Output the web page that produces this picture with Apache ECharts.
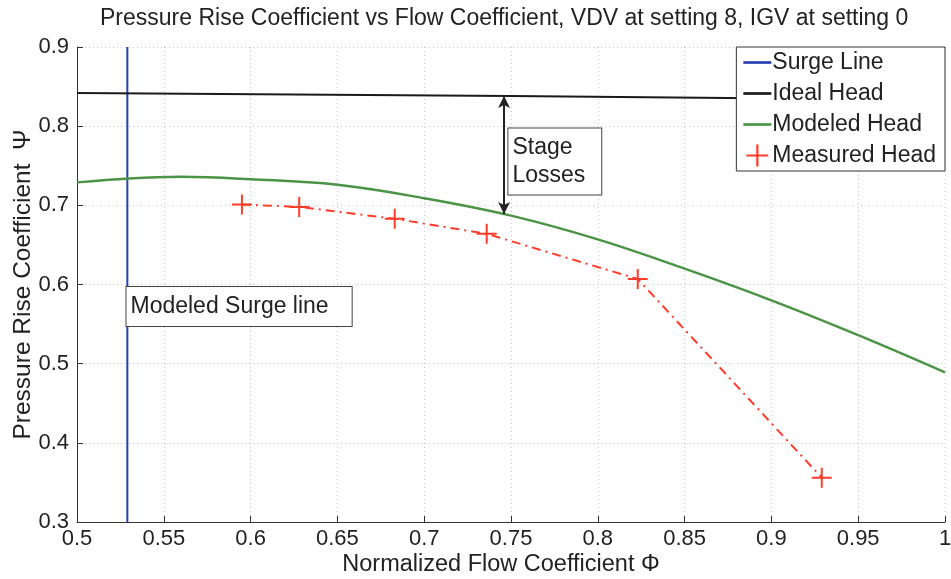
<!DOCTYPE html>
<html><head><meta charset="utf-8">
<script src="https://cdn.jsdelivr.net/npm/echarts@6/dist/echarts.min.js"></script>
<style>html,body{margin:0;padding:0;background:#fff}#c{width:951px;height:579px}</style>
</head><body><div id="c"></div>
<script>
const titleText = 'Pressure Rise Coefficient vs Flow Coefficient, VDV at setting 8, IGV at setting 0';
const xName = 'Normalized Flow Coefficient \u03A6';
const yName = 'Pressure Rise Coefficient  \u03A8';
const surgeX = [0.529, 0.529];
const surgeY = [0.3, 0.9];
const idealX = [0.5, 0.75, 1.0];
const idealY = [0.842, 0.838, 0.833];
const modeledX = [0.5, 0.53, 0.56, 0.6, 0.65, 0.7, 0.75, 0.8, 0.85, 0.9, 0.95, 1.0];
const modeledY = [0.729, 0.734, 0.736, 0.733, 0.726, 0.709, 0.687, 0.657, 0.620, 0.580, 0.536, 0.489];
const measuredX = [0.595, 0.628, 0.683, 0.736, 0.823, 0.929];
const measuredY = [0.701, 0.698, 0.683, 0.664, 0.607, 0.356];
const lossesX = 0.746;
const lossesTop = 0.838, lossesBottom = 0.689;
const stageLabel = 'Stage\nLosses';
const surgeLabel = 'Modeled Surge line';
const stageLabelPos = [0.7485, 0.797];
const surgeLabelPos = [0.5285, 0.597];

const zip = (a, b) => a.map((v, i) => [v, b[i]]);
const plus = 'path://M0.45,0H0.55V0.45H1V0.55H0.55V1H0.45V0.55H0V0.45H0.45Z';
const dash = 'path://M0,0H26V2.5H0Z';
const FONT = 'Liberation Sans, Arial, sans-serif';

const chart = echarts.init(document.getElementById('c'));
chart.setOption({
  animation: false,
  textStyle: {fontFamily: FONT},
  title: {text: titleText, left: 95, top: 2, textStyle: {fontSize: 23, fontWeight: 'normal', color: '#222', fontFamily: FONT}},
  grid: {left: 77, right: 6, top: 47, bottom: 57, outerBoundsMode: 'none', containLabel: false},
  legend: {
    orient: 'vertical', right: 6, top: 47, padding: [4, 9, 4, 7], itemGap: 8,
    backgroundColor: '#fff', borderColor: '#333', borderWidth: 1, borderRadius: 0,
    itemWidth: 28, itemHeight: 22, symbolKeepAspect: true,
    textStyle: {fontSize: 23, color: '#222', padding: [0, 0, 0, -4]},
    data: [
      {name: 'Surge Line', icon: dash}, {name: 'Ideal Head', icon: dash}, {name: 'Modeled Head', icon: dash},
      {name: 'Measured Head', icon: plus, itemStyle: {color: '#ff3b2a'}}
    ]
  },
  xAxis: {
    type: 'value', min: 0.5, max: 1, interval: 0.05,
    name: xName, nameLocation: 'middle', nameGap: 31, nameMoveOverlap: false,
    nameTextStyle: {fontSize: 23.5, color: '#222', padding: [0, 20, 0, 0]},
    axisLine: {lineStyle: {color: '#333'}},
    axisTick: {inside: true, length: 6, lineStyle: {color: '#333'}},
    axisLabel: {fontSize: 22, color: '#222', margin: 6},
    splitLine: {show: true, lineStyle: {color: '#c8c8c8', type: [1, 3]}}
  },
  yAxis: {
    type: 'value', min: 0.3, max: 0.9, interval: 0.1,
    name: yName, nameLocation: 'middle', nameGap: 41, nameMoveOverlap: false,
    nameTextStyle: {fontSize: 24.5, color: '#222'},
    axisLine: {show: true, lineStyle: {color: '#333'}},
    axisTick: {show: true, inside: true, length: 6, lineStyle: {color: '#333'}},
    axisLabel: {fontSize: 22, color: '#222', margin: 8, formatter: v => String(+v.toFixed(2))},
    splitLine: {show: true, lineStyle: {color: '#c8c8c8', type: [1, 3]}}
  },
  series: [
    {name: 'Surge Line', type: 'line', data: zip(surgeX, surgeY), symbol: 'none',
      lineStyle: {color: '#2640b0', width: 2}, itemStyle: {color: '#2640b0'}},
    {name: 'Ideal Head', type: 'line', data: zip(idealX, idealY), symbol: 'none',
      lineStyle: {color: '#1a1a1a', width: 2}, itemStyle: {color: '#1a1a1a'},
      markLine: {
        silent: true, symbol: ['arrow', 'arrow'], symbolSize: [9, 12], label: {show: false},
        lineStyle: {color: '#222', width: 2, type: 'solid'},
        data: [[{coord: [lossesX, lossesTop]}, {coord: [lossesX, lossesBottom]}]]
      }},
    {name: 'Modeled Head', type: 'line', data: zip(modeledX, modeledY), symbol: 'none', smooth: 0.4,
      lineStyle: {color: '#4b9445', width: 2.5}, itemStyle: {color: '#4b9445'}},
    {name: 'Measured Head', type: 'line', data: zip(measuredX, measuredY),
      symbol: plus, symbolSize: 20, showSymbol: true,
      lineStyle: {color: '#ff3b2a', width: 2, type: [9, 5, 2, 5]}, itemStyle: {color: '#ff3b2a'}}
  ]
});

const p1 = chart.convertToPixel({gridIndex: 0}, stageLabelPos);
const p2 = chart.convertToPixel({gridIndex: 0}, surgeLabelPos);
chart.setOption({
  graphic: [
    {type: 'text', x: p1[0], y: p1[1], z: 100,
      style: {text: stageLabel, font: '23px ' + FONT, fill: '#222', backgroundColor: '#fff',
        borderColor: '#444', borderWidth: 1, padding: [5, 16, 5, 4], lineHeight: 28}},
    {type: 'text', x: p2[0], y: p2[1], z: 100,
      style: {text: surgeLabel, font: '23px ' + FONT, fill: '#222', backgroundColor: '#fff',
        borderColor: '#444', borderWidth: 1, padding: [8, 23, 8, 4]}}
  ]
});
</script></body></html>
